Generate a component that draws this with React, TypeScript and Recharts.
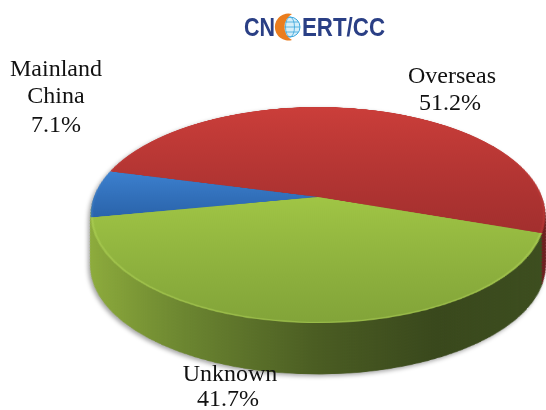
import { Cell, Pie, PieChart } from "recharts";

const names = ["Overseas", "Mainland China", "Unknown"];
const shares = [51.2, 7.1, 41.7];
const faceFills = ["url(#faceRed)", "url(#faceBlue)", "url(#faceGreen)"];
const wallFills = ["#6e1f1f", "url(#wall)", "url(#wall)"];
const rimFills = ["#c23a37", "#3a7cc8", "#b4d65a"];
const wallSteps = [51, 48, 45, 42, 39, 36, 33, 30, 27, 24, 21, 18, 15, 12, 9, 6, 3];

// the tilted disc: the plane is drawn flat, then projected with a matrix3d
const CX = 318;
const APEX_Y = 197;
const CY = 240;
const RADIUS = 224;
const TILT = 0.469;
const PERSPECTIVE = -0.000744;
const START = -19;

const pieData = names.map((name, i) => ({ name, value: shares[i] }));
const tilt = `matrix3d(1,0,0,0, 0,${TILT},0,${PERSPECTIVE}, 0,0,1,0, 0,0,0,1)`;

function layer(step: number): React.CSSProperties {
  return {
    position: "absolute",
    left: 0,
    top: APEX_Y - CY,
    transformOrigin: `${CX}px ${CY}px`,
    transform: `translateY(${step}px) ${tilt}`,
  };
}

function Disc({ fills, inner = 0, stroke }: { fills: string[]; inner?: number; stroke?: boolean }) {
  return (
    <PieChart width={546} height={480} margin={{ top: 0, right: 0, bottom: 0, left: 0 }}>
      <Pie
        data={pieData}
        dataKey="value"
        cx={CX}
        cy={CY}
        innerRadius={inner}
        outerRadius={RADIUS}
        startAngle={START}
        endAngle={START + 360}
        stroke="none"
        label={false}
        labelLine={false}
        isAnimationActive={false}
      >
        {pieData.map((d, i) => (
          <Cell key={d.name} fill={fills[i]} stroke={stroke ? fills[i] : "none"} strokeWidth={stroke ? 1 : 0} />
        ))}
      </Pie>
    </PieChart>
  );
}

const textProps = { textAnchor: "middle" as const, fill: "#111" };

export default function App() {
  return (
    <div style={{ position: "absolute", left: 0, top: 0, width: 546, height: 410, overflow: "hidden", background: "#fff" }}>
      <svg width={0} height={0} style={{ position: "absolute" }}>
        <defs>
          <linearGradient id="wall" gradientUnits="userSpaceOnUse" x1="91" y1="0" x2="545" y2="0">
            <stop offset="0" stopColor="#8fae3d" />
            <stop offset="0.1" stopColor="#83a038" />
            <stop offset="0.25" stopColor="#6b8530" />
            <stop offset="0.5" stopColor="#4a5c22" />
            <stop offset="0.72" stopColor="#39481c" />
            <stop offset="1" stopColor="#3d4e1f" />
          </linearGradient>
          <linearGradient id="faceRed" gradientUnits="userSpaceOnUse" x1="0" y1={CY - RADIUS} x2="0" y2={CY + 70}>
            <stop offset="0" stopColor="#cb3e3a" />
            <stop offset="1" stopColor="#a32f2e" />
          </linearGradient>
          <linearGradient id="faceBlue" gradientUnits="userSpaceOnUse" x1="0" y1={CY - 60} x2="0" y2={CY + 40}>
            <stop offset="0" stopColor="#3d81d0" />
            <stop offset="1" stopColor="#2a64ab" />
          </linearGradient>
          <linearGradient id="faceGreen" gradientUnits="userSpaceOnUse" x1="0" y1={CY} x2="0" y2={CY + RADIUS}>
            <stop offset="0" stopColor="#a0c545" />
            <stop offset="1" stopColor="#82a439" />
          </linearGradient>
        </defs>
      </svg>

      <div style={{ position: "absolute", left: 0, top: 0, width: 546, height: 410, filter: "drop-shadow(-2px 2px 2px rgba(0,0,0,0.35))" }}>
        {wallSteps.map((step) => (
          <div key={step} style={layer(step)}>
            <Disc fills={wallFills} stroke />
          </div>
        ))}
        <div style={layer(0)}>
          <Disc fills={faceFills} />
        </div>
        <div style={{ ...layer(0), opacity: 0.45 }}>
          <Disc fills={rimFills} inner={RADIUS - 2} />
        </div>
      </div>

      <svg width={546} height={410} style={{ position: "absolute", left: 0, top: 0 }}>
        <g fontFamily="'Liberation Sans Narrow', 'Liberation Sans', sans-serif" fontWeight="700" fontSize={25} fill="#2a3f85">
          <text x={244} y={36} textLength={31} lengthAdjust="spacingAndGlyphs">CN</text>
          <text x={302} y={36} textLength={83} lengthAdjust="spacingAndGlyphs">ERT/CC</text>
        </g>
        <circle cx={290} cy={27} r={10} fill="#d5eef9" stroke="#3aa6dc" strokeWidth={1} />
        <ellipse cx={290} cy={27} rx={4.5} ry={10} fill="none" stroke="#3aa6dc" strokeWidth={0.8} />
        <path d="M280 27H300M281.5 22H298.5M281.5 32H298.5" stroke="#3aa6dc" strokeWidth={0.8} fill="none" />
        <path d="M292 14A13.5 13.5 0 1 0 292 40A15 15 0 0 1 292 14Z" fill="#ea7d1e" />

        <g fontFamily="'Liberation Serif', serif" fontSize={24}>
          <text x={56} y={76} {...textProps}>Mainland</text>
          <text x={56} y={103} {...textProps}>China</text>
          <text x={56} y={132} {...textProps}>{shares[1]}%</text>
          <text x={452} y={83} {...textProps}>{names[0]}</text>
          <text x={450} y={110} {...textProps}>{shares[0]}%</text>
          <text x={230} y={381} {...textProps}>{names[2]}</text>
          <text x={228} y={406} {...textProps}>{shares[2]}%</text>
        </g>
      </svg>
    </div>
  );
}
